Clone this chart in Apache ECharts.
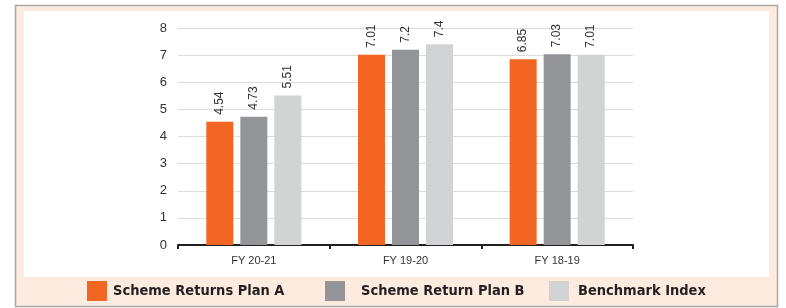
<!DOCTYPE html>
<html>
<head>
<meta charset="utf-8">
<script src="https://cdn.jsdelivr.net/npm/echarts@6/dist/echarts.min.js"></script>
<style>
  html, body { margin: 0; padding: 0; background: #fff; }
  #chart { width: 786px; height: 308px; }
</style>
</head>
<body>
<div id="chart"></div>
<script>
const categories = ['FY 20-21', 'FY 19-20', 'FY 18-19']
const planA = [4.54, 7.01, 6.85]
const planB = [4.73, 7.2, 7.03]
const benchmark = [5.51, 7.4, 7.01]
const seriesNames = ['Scheme Returns Plan A', 'Scheme Return Plan B', 'Benchmark Index']
const colors = ['#f26522', '#939598', '#d1d3d4']

const FONT = '"Liberation Sans", sans-serif'
const LEGEND_FONT = '"DejaVu Sans Condensed", "Liberation Sans", sans-serif'

const chart = echarts.init(document.getElementById('chart'))

const barLabel = {
    show: true,
    position: 'top',
    rotate: 90,
    align: 'left',
    verticalAlign: 'middle',
    distance: 7,
    fontFamily: FONT,
    fontSize: 12,
    color: '#333'
}

const makeSeries = (name, data, color) => ({
    name,
    type: 'bar',
    data,
    barWidth: 27,
    barGap: '26%',
    itemStyle: { color },
    label: barLabel
})

// one legend per item, the spacing in the original is uneven
const legendAt = (left, name, textGap) => ({
    left,
    top: 281,
    data: [name],
    itemWidth: 20,
    itemHeight: 20,
    itemGap: 0,
    padding: 0,
    icon: 'rect',
    textStyle: { fontFamily: LEGEND_FONT, fontSize: 14.5, fontWeight: 'bold', color: '#231f20', padding: [0, 0, 0, textGap] }
})

chart.setOption({
    animation: false,
    graphic: [
        { type: 'rect', z: -10, silent: true, shape: { x: 15.5, y: 5.5, width: 762, height: 301 },
          style: { fill: '#fdebdf', stroke: '#a9a9a9', lineWidth: 1.5 } },
        { type: 'rect', z: -9, silent: true, shape: { x: 24, y: 11, width: 745, height: 266 },
          style: { fill: '#ffffff' } }
    ],
    grid: { left: 178, right: 153, top: 28, bottom: 63 },
    legend: [
        legendAt(87, seriesNames[0], 1),
        legendAt(325, seriesNames[1], 11),
        legendAt(549, seriesNames[2], 4)
    ],
    xAxis: {
        type: 'category',
        data: categories,
        axisLine: { lineStyle: { color: '#231f20', width: 2 } },
        axisTick: { show: true, length: 4, lineStyle: { color: '#231f20', width: 2 } },
        axisLabel: { fontFamily: FONT, fontSize: 11, color: '#333', margin: 10 }
    },
    yAxis: {
        type: 'value',
        min: 0,
        max: 8,
        interval: 1,
        axisLine: { show: false },
        axisTick: { show: false },
        splitLine: { lineStyle: { color: '#dcdcdc', width: 1 } },
        axisLabel: { fontFamily: FONT, fontSize: 13, color: '#333', margin: 11 }
    },
    series: [
        makeSeries(seriesNames[0], planA, colors[0]),
        makeSeries(seriesNames[1], planB, colors[1]),
        makeSeries(seriesNames[2], benchmark, colors[2])
    ]
})
</script>
</body>
</html>
